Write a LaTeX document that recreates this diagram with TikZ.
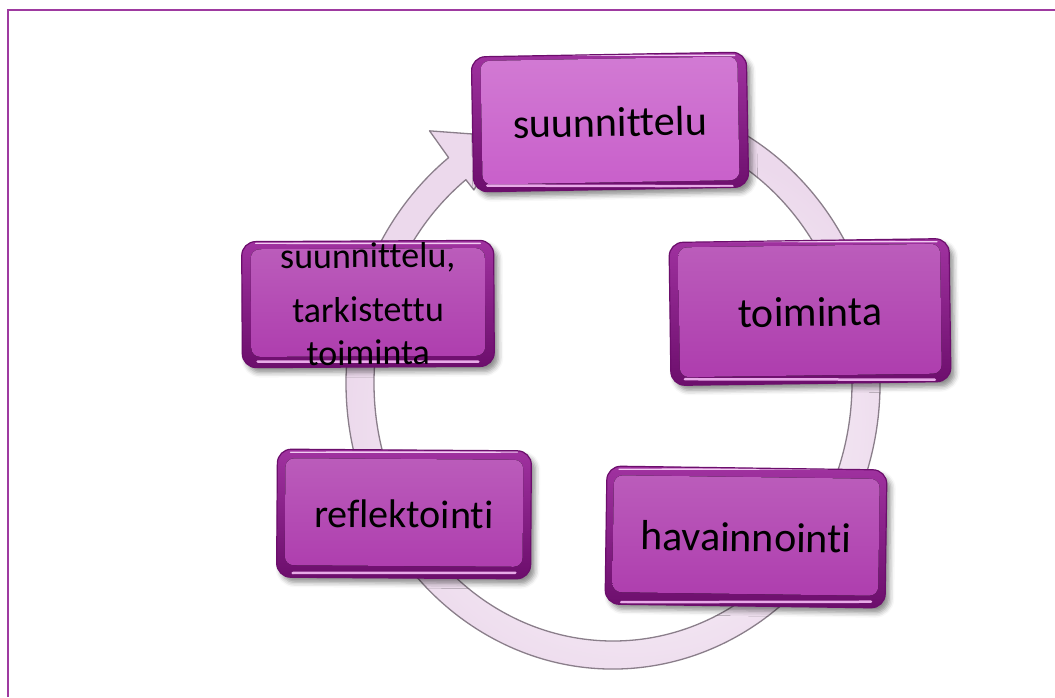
\documentclass[tikz,border=0pt]{standalone}
\usepackage{fontspec}
\setmainfont{Carlito}[Ligatures={NoCommon,NoContextual}]
\usetikzlibrary{calc,shadows.blur}

\definecolor{framepurple}{HTML}{9E3AA0}
\definecolor{rimdark}{HTML}{6C0E6C}
\definecolor{rimmid}{HTML}{A032A0}
\definecolor{facemain}{HTML}{AD3BAD}
\definecolor{facetop}{HTML}{C85ECA}
\definecolor{rimlight}{HTML}{E8AAE8}
\definecolor{ringfill}{HTML}{ECD9EC}
\definecolor{ringedge}{HTML}{8A7E8A}

\tikzset{
  facecol/.store in=\facecol, facecol=facemain,
  cyclebox/.style 2 args={
    rectangle, rounded corners=14pt, minimum width=#1, minimum height=#2,
    inner sep=0pt, draw=rimdark, line width=1.2pt,
    top color=rimmid, bottom color=rimdark,
    font=\fontsize{42}{50}\selectfont, text=black, align=center,
    blur shadow={shadow xshift=4pt, shadow yshift=-5pt,
                 shadow blur radius=5pt, shadow opacity=45},
    path picture={
      \fill[rounded corners=9pt, top color=\facecol!82!white, bottom color=\facecol]
        ([shift={(9pt,-9pt)}]path picture bounding box.north west) rectangle
        ([shift={(-9pt,12pt)}]path picture bounding box.south east);
      \draw[rimlight, line width=2.5pt, line cap=round]
        ([shift={(16pt,6pt)}]path picture bounding box.south west) --
        ([shift={(-16pt,6pt)}]path picture bounding box.south east);
      \draw[rimlight!60!white, line width=1.4pt, line cap=round]
        ([shift={(14pt,-3pt)}]path picture bounding box.north west) --
        ([shift={(-14pt,-3pt)}]path picture bounding box.north east);
    }
  },
  ringband/.style={draw=ringedge, line width=1.3pt, line join=round,
                   inner color=white, outer color=ringfill},
  framerule/.style={draw=framepurple, line width=2.2pt},
}

\begin{document}
\begin{tikzpicture}[x=1pt, y=-1pt]
  \useasboundingbox (0,0) rectangle (1055,697);

  % frame lines along the top and left edge
  \draw[framerule] (8.3,697) -- (8.3,10) -- (1055,10);

  % circular arrow behind the boxes
  \coordinate (ringc) at (613,383);
  \path[ringband]
    ($(ringc)+(-60:267 and 286)$)
      arc[start angle=-60, end angle=232, x radius=267, y radius=286]
    -- ($(ringc)+(232:298 and 320)$)
    -- ($(ringc)+(245:253 and 272)$)
    -- ($(ringc)+(232:226 and 245)$)
    -- ($(ringc)+(232:239 and 258)$)
      arc[start angle=232, end angle=-60, x radius=239, y radius=258]
    -- cycle;

  % the five steps of the cycle
  \node[cyclebox={275pt}{135pt}, facecol=facetop, rotate=1]
    (plan) at (610,122) {suunnittelu};
  \node[cyclebox={280pt}{143pt}, rotate=0.8]
    (act) at (810,312) {toiminta};
  \node[cyclebox={280pt}{138pt}, rotate=-0.8]
    (observe) at (746,537) {havainnointi};
  \node[cyclebox={254pt}{128pt}, rotate=-0.4,
        font=\fontsize{40}{48}\selectfont]
    (reflect) at (404,514) {reflektointi};
  \node[cyclebox={252pt}{126pt}, rotate=0.3,
        font=\fontsize{36}{43}\selectfont]
    (revised) at (368,304) {suunnittelu,\\[11pt]tarkistettu\\toiminta};
\end{tikzpicture}
\end{document}
